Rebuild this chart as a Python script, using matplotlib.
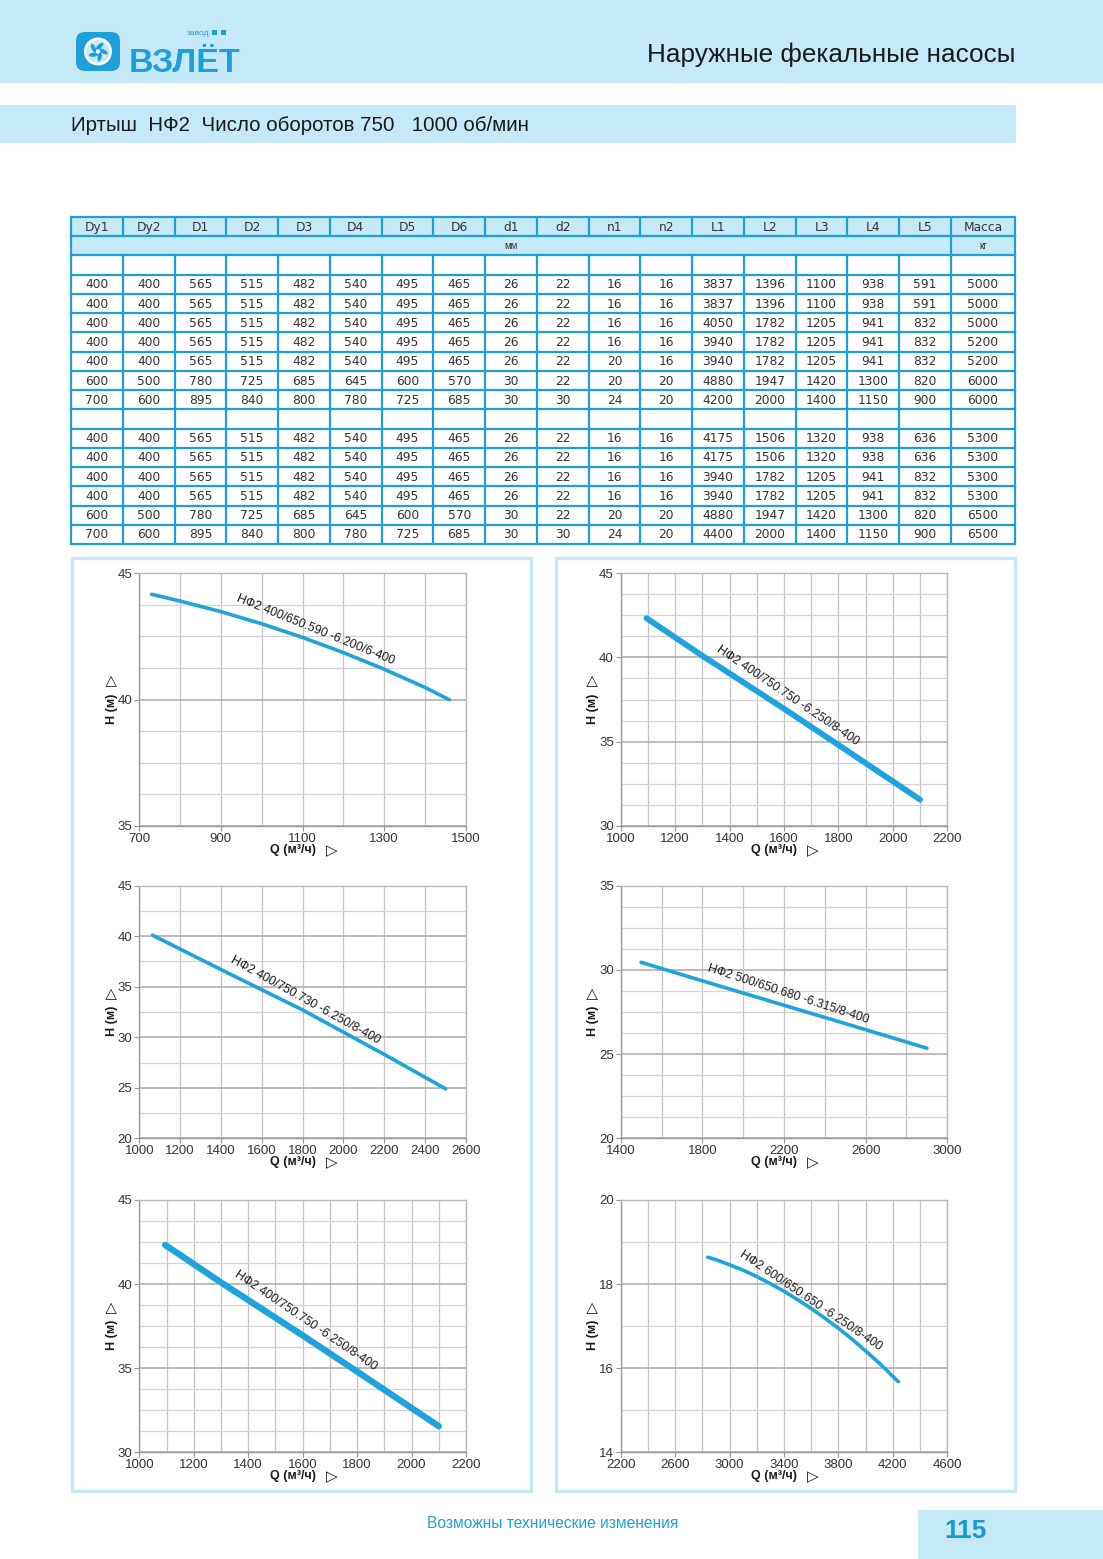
import matplotlib
matplotlib.use("Agg")
import matplotlib.pyplot as plt
from matplotlib.patches import Rectangle, Circle, FancyBboxPatch, Ellipse
import numpy as np

# ---------------- DATA ----------------
title_text = "Наружные фекальные насосы"
subtitle_text = "Иртыш  НФ2  Число оборотов 750   1000 об/мин"
footer_text = "Возможны технические изменения"
page_number = "115"

table_columns = ["Dy1", "Dy2", "D1", "D2", "D3", "D4", "D5", "D6", "d1", "d2",
                 "n1", "n2", "L1", "L2", "L3", "L4", "L5", "Масса"]
unit_mm = "мм"
unit_kg = "кг"
table_group1 = [
    [400, 400, 565, 515, 482, 540, 495, 465, 26, 22, 16, 16, 3837, 1396, 1100, 938, 591, 5000],
    [400, 400, 565, 515, 482, 540, 495, 465, 26, 22, 16, 16, 3837, 1396, 1100, 938, 591, 5000],
    [400, 400, 565, 515, 482, 540, 495, 465, 26, 22, 16, 16, 4050, 1782, 1205, 941, 832, 5000],
    [400, 400, 565, 515, 482, 540, 495, 465, 26, 22, 16, 16, 3940, 1782, 1205, 941, 832, 5200],
    [400, 400, 565, 515, 482, 540, 495, 465, 26, 22, 20, 16, 3940, 1782, 1205, 941, 832, 5200],
    [600, 500, 780, 725, 685, 645, 600, 570, 30, 22, 20, 20, 4880, 1947, 1420, 1300, 820, 6000],
    [700, 600, 895, 840, 800, 780, 725, 685, 30, 30, 24, 20, 4200, 2000, 1400, 1150, 900, 6000],
]
table_group2 = [
    [400, 400, 565, 515, 482, 540, 495, 465, 26, 22, 16, 16, 4175, 1506, 1320, 938, 636, 5300],
    [400, 400, 565, 515, 482, 540, 495, 465, 26, 22, 16, 16, 4175, 1506, 1320, 938, 636, 5300],
    [400, 400, 565, 515, 482, 540, 495, 465, 26, 22, 16, 16, 3940, 1782, 1205, 941, 832, 5300],
    [400, 400, 565, 515, 482, 540, 495, 465, 26, 22, 16, 16, 3940, 1782, 1205, 941, 832, 5300],
    [600, 500, 780, 725, 685, 645, 600, 570, 30, 22, 20, 20, 4880, 1947, 1420, 1300, 820, 6500],
    [700, 600, 895, 840, 800, 780, 725, 685, 30, 30, 24, 20, 4400, 2000, 1400, 1150, 900, 6500],
]

# pump curves: Q (м3/ч), H (м)
Q1 = [730, 800, 900, 1000, 1100, 1200, 1300, 1400, 1460]
H1 = [44.17, 43.90, 43.48, 43.00, 42.46, 41.86, 41.20, 40.48, 39.99]
label1 = "НФ2 400/650.590 -6.200/6-400"

Q2 = [1095, 1300, 1600, 1800, 2100]
H2 = [42.33, 40.10, 36.95, 34.80, 31.55]
label2 = "НФ2 400/750.750 -6.250/8-400"

Q3 = [1065, 1400, 1800, 2200, 2500]
H3 = [40.1, 36.7, 32.7, 28.3, 24.9]
label3 = "НФ2 400/750.730 -6.250/8-400"

Q4 = [1500, 1800, 2200, 2600, 2900]
H4 = [30.45, 29.35, 27.9, 26.45, 25.35]
label4 = "НФ2 500/650.680 -6.315/8-400"

Q5 = [1095, 1300, 1600, 1800, 2100]
H5 = [42.33, 40.10, 36.95, 34.80, 31.55]
label5 = "НФ2 400/750.750 -6.250/8-400"

Q6 = [2840, 2900, 3000, 3100, 3200, 3300, 3400, 3500, 3600, 3700, 3800, 3900, 4000, 4100, 4240]
H6 = [18.64, 18.58, 18.46, 18.33, 18.18, 18.01, 17.83, 17.63, 17.42, 17.19, 16.95, 16.69,
      16.41, 16.12, 15.68]
label6 = "НФ2 600/650.650 -6.250/8-400"

x_label = "Q (м³/ч)"
y_label = "H (м)"
arrow_mark = "▷"

# ---------------- STYLE / LAYOUT ----------------
W, HP = 1103, 1559
LIGHT = "#c6e9f8"
BLUE = "#1e9fda"
CURVE = "#1ea3dc"
TXT = "#333333"
NARROW = ["Liberation Sans Narrow", "DejaVu Sans Condensed", "Liberation Sans", "DejaVu Sans"]
SANS = ["Liberation Sans", "DejaVu Sans"]
PX = 0.72  # points per pixel at dpi 100

fig = plt.figure(figsize=(W / 100, HP / 100), dpi=100)
page = fig.add_axes([0, 0, 1, 1])
page.set_xlim(0, W)
page.set_ylim(HP, 0)
page.axis("off")

# header band
page.add_patch(Rectangle((0, 0), W, 83, fc=LIGHT, lw=0))
page.text(1015, 55, title_text, ha="right", va="center", fontsize=18.8,
          family=NARROW, color="#1a1a1a")
# subtitle band
page.add_patch(Rectangle((0, 105), 1016, 38, fc=LIGHT, lw=0))
page.text(71, 125, subtitle_text, ha="left", va="center", fontsize=14.8,
          family=NARROW, color="#1a1a1a")

# logo
page.add_patch(FancyBboxPatch((76, 32), 44, 39, boxstyle="round,pad=0,rounding_size=9",
                              fc=BLUE, ec="none"))
page.add_patch(Circle((98, 51.5), 14.0, fc="white", ec="none"))
page.add_patch(Circle((98, 51.5), 11.5, fc=LIGHT, ec="none"))
for ang in range(0, 360, 72):
    a = np.deg2rad(ang)
    page.add_patch(Ellipse((98 + 5.5 * np.cos(a), 51.5 + 5.5 * np.sin(a)), 9.5, 4,
                           angle=ang + 30, fc=BLUE, ec="none"))
page.add_patch(Circle((98, 51.5), 2.0, fc="white", ec="none"))
page.text(129, 72, "ВЗЛЁТ", ha="left", va="baseline", fontsize=24.5, fontweight="bold",
          family=NARROW, color=BLUE)
page.text(187, 33, "завод", ha="left", va="center", fontsize=6, family=SANS, color=BLUE)
page.add_patch(Rectangle((212, 30), 5, 5, fc=BLUE, lw=0))
page.add_patch(Rectangle((221, 30), 5, 5, fc=BLUE, lw=0))

# ---------------- TABLE ----------------
tx0, tx1, tmass = 71, 1015, 951
ncols = len(table_columns)
col_edges = list(np.linspace(tx0, tmass, ncols)) + [tx1]
ty0, ty1 = 217, 544
rows = ([table_columns, "units", None] + table_group1 + [None] + table_group2)
nrows = len(rows)
row_edges = np.linspace(ty0, ty1, nrows + 1)

page.add_patch(Rectangle((tx0, row_edges[0]), tx1 - tx0, row_edges[2] - row_edges[0],
                         fc=LIGHT, lw=0))
line_kw = dict(color=BLUE, lw=1.6, solid_capstyle="projecting")
for y in row_edges:
    page.plot([tx0, tx1], [y, y], **line_kw)
for ri in range(nrows):
    ya, yb = row_edges[ri], row_edges[ri + 1]
    edges = col_edges if not isinstance(rows[ri], str) else [tx0, tmass, tx1]
    for x in edges:
        page.plot([x, x], [ya, yb], **line_kw)
for ri, r in enumerate(rows):
    yc = (row_edges[ri] + row_edges[ri + 1]) / 2 + 0.5
    if r is None:
        continue
    if isinstance(r, str):
        page.text((tx0 + tmass) / 2, yc, unit_mm, ha="center", va="center",
                  fontsize=7, family=SANS, color=TXT)
        page.text((tmass + tx1) / 2, yc, unit_kg, ha="center", va="center",
                  fontsize=7, family=SANS, color=TXT)
        continue
    for ci, v in enumerate(r):
        xc = (col_edges[ci] + col_edges[ci + 1]) / 2
        page.text(xc, yc, str(v), ha="center", va="center", fontsize=8.8,
                  family=["DejaVu Sans"], color=TXT)

# chart panels
for (x0, x1) in [(72, 531), (556, 1015)]:
    page.add_patch(Rectangle((x0, 558), x1 - x0, 1491 - 558, fc="none",
                             ec="#c9e8f6", lw=2.4))

# footer
page.text(427, 1524, footer_text, ha="left", va="center", fontsize=11.2,
          family=NARROW, color=BLUE)
page.add_patch(Rectangle((918, 1510), W - 918, HP - 1510, fc=LIGHT, lw=0))
page.text(944, 1531, page_number, ha="left", va="center", fontsize=19,
          fontweight="bold", family=SANS, color="#1598d4")

# ---------------- CHARTS ----------------
charts = [
    dict(box=(139.3, 573.3, 465.7, 825.7), Q=Q1, H=H1, label=label1,
         xlim=(700, 1500), xmaj=200, xgrid=100, ylim=(35, 45), ymaj=5, ygrid=1.25,
         lw=2.6, lab_xy=(1133, 42.75), rot=-22),
    dict(box=(620.7, 573.3, 947.3, 825.7), Q=Q2, H=H2, label=label2,
         xlim=(1000, 2200), xmaj=200, xgrid=100, ylim=(30, 45), ymaj=5, ygrid=1.25,
         lw=4.2, lab_xy=(1615, 37.7), rot=-34),
    dict(box=(139.3, 885.7, 466.0, 1138.3), Q=Q3, H=H3, label=label3,
         xlim=(1000, 2600), xmaj=200, xgrid=200, ylim=(20, 45), ymaj=5, ygrid=2.5,
         lw=2.6, lab_xy=(1811, 33.7), rot=-29),
    dict(box=(620.7, 885.7, 947.3, 1138.3), Q=Q4, H=H4, label=label4,
         xlim=(1400, 3000), xmaj=400, xgrid=200, ylim=(20, 35), ymaj=5, ygrid=1.25,
         lw=2.6, lab_xy=(2220, 28.57), rot=-18),
    dict(box=(139.3, 1200.0, 466.0, 1452.3), Q=Q5, H=H5, label=label5,
         xlim=(1000, 2200), xmaj=200, xgrid=100, ylim=(30, 45), ymaj=5, ygrid=1.25,
         lw=4.6, lab_xy=(1612, 37.8), rot=-34),
    dict(box=(620.7, 1200.0, 947.3, 1452.3), Q=Q6, H=H6, label=label6,
         xlim=(2200, 4600), xmaj=400, xgrid=200, ylim=(14, 20), ymaj=2, ygrid=1,
         lw=2.6, lab_xy=(3598, 17.6), rot=-34),
]

for c in charts:
    l, t, r, b = c["box"]
    ax = fig.add_axes([l / W, 1 - b / HP, (r - l) / W, (b - t) / HP])
    ax.set_xlim(*c["xlim"])
    ax.set_ylim(*c["ylim"])
    ax.set_facecolor("white")
    xmaj = np.arange(c["xlim"][0], c["xlim"][1] + 1e-6, c["xmaj"])
    ymaj = np.arange(c["ylim"][0], c["ylim"][1] + 1e-6, c["ymaj"])
    xg = np.arange(c["xlim"][0], c["xlim"][1] + 1e-6, c["xgrid"])
    yg = np.arange(c["ylim"][0], c["ylim"][1] + 1e-6, c["ygrid"])
    for x in xg:
        ax.axvline(x, color="#c4c4c4", lw=0.9, zorder=1)
    for y in yg:
        major = np.any(np.isclose(y, ymaj))
        ax.axhline(y, color="#aaaaaa" if major else "#d4d4d4",
                   lw=1.1 if major else 0.9, zorder=1)
    ax.set_xticks(xmaj)
    ax.set_yticks(ymaj)
    ax.set_xticklabels([f"{v:g}" for v in xmaj])
    ax.set_yticklabels([f"{v:g}" for v in ymaj])
    ax.tick_params(axis="both", direction="out", length=3.5, width=0.8, color="#999999",
                   labelsize=9.5, labelcolor=TXT, pad=1.5)
    for lab in ax.get_xticklabels() + ax.get_yticklabels():
        lab.set_family(SANS)
    for s in ["left", "bottom"]:
        ax.spines[s].set_color("#999999")
        ax.spines[s].set_linewidth(1.0)
    for s in ["top", "right"]:
        ax.spines[s].set_color("#b8b8b8")
        ax.spines[s].set_linewidth(1.0)
    ax.plot(c["Q"], c["H"], color=CURVE, lw=c["lw"], solid_capstyle="round",
            solid_joinstyle="round", zorder=3)
    ax.text(c["lab_xy"][0], c["lab_xy"][1], c["label"], rotation=c["rot"],
            ha="center", va="center", rotation_mode="anchor", fontsize=8.8,
            family=SANS, color="#1a1a1a", zorder=4)
    # axis titles with triangle markers
    ax.annotate(x_label, xy=(0.5, 0), xycoords="axes fraction",
                xytext=(-10 * PX, -24 * PX), textcoords="offset points",
                ha="center", va="center", fontsize=9, fontweight="bold",
                family=SANS, color="#1a1a1a", annotation_clip=False)
    ax.annotate(arrow_mark, xy=(0.5, 0), xycoords="axes fraction",
                xytext=(29 * PX, -24.5 * PX), textcoords="offset points",
                ha="center", va="center", fontsize=11, fontweight="bold",
                family=["DejaVu Sans"], color="#1a1a1a", annotation_clip=False)
    ax.annotate(y_label, xy=(0, 0.5), xycoords="axes fraction",
                xytext=(-27.5 * PX, -9 * PX), textcoords="offset points",
                ha="center", va="center", rotation=90, fontsize=9, fontweight="bold",
                family=SANS, color="#1a1a1a", annotation_clip=False)
    ax.annotate(arrow_mark, xy=(0, 0.5), xycoords="axes fraction",
                xytext=(-28 * PX, 19 * PX), textcoords="offset points",
                ha="center", va="center", rotation=90, fontsize=10.5, fontweight="bold",
                family=["DejaVu Sans"], color="#1a1a1a", annotation_clip=False)

fig.savefig("out.png", dpi=100, facecolor="white")
